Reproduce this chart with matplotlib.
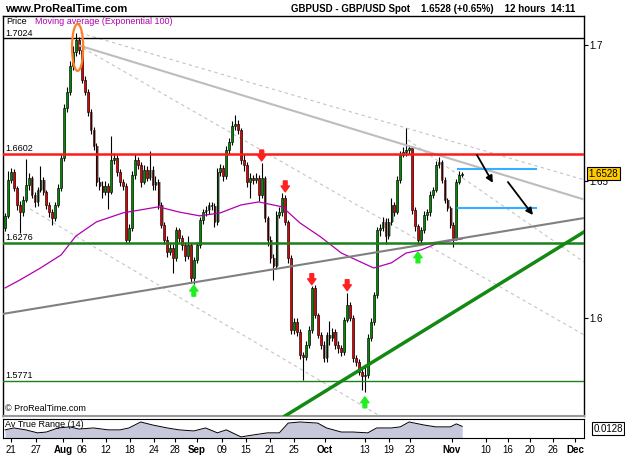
import matplotlib.pyplot as plt
import numpy as np
from matplotlib.patches import Ellipse
from matplotlib.transforms import blended_transform_factory

plt.rcParams['font.family'] = ['Liberation Sans', 'DejaVu Sans']

# GBPUSD 12h candles (bar index 0 = 20 Jul)
first_open = 1.6330
closes = [1.6374, 1.6506, 1.6535, 1.6476, 1.6414, 1.6388, 1.6432, 1.6487, 1.6513, 1.6451,
          1.6425, 1.6469, 1.6506, 1.6462, 1.6414, 1.6388, 1.6366, 1.6414, 1.6476, 1.6586,
          1.6769, 1.6828, 1.6923, 1.6975, 1.7018, 1.6982, 1.6872, 1.6828, 1.6755, 1.6689,
          1.6630, 1.6498, 1.6484, 1.6462, 1.6484, 1.6462, 1.6579, 1.6586, 1.6535, 1.6498,
          1.6484, 1.6286, 1.6330, 1.6524, 1.6579, 1.6561, 1.6498, 1.6542, 1.6513, 1.6542,
          1.6487, 1.6498, 1.6414, 1.6341, 1.6286, 1.6242, 1.6257, 1.6220, 1.6322, 1.6293,
          1.6267, 1.6227, 1.6267, 1.6147, 1.6213, 1.6267, 1.6359, 1.6388, 1.6396, 1.6414,
          1.6410, 1.6352, 1.6535, 1.6550, 1.6520, 1.6616, 1.6645, 1.6703, 1.6711, 1.6689,
          1.6579, 1.6561, 1.6498, 1.6513, 1.6506, 1.6513, 1.6451, 1.6513, 1.6366, 1.6286,
          1.6220, 1.6191, 1.6377, 1.6388, 1.6440, 1.6352, 1.6220, 1.5956, 1.5986, 1.5949,
          1.5865, 1.5857, 1.5901, 1.5956, 1.6110, 1.6011, 1.5938, 1.5901, 1.5854, 1.5938,
          1.5927, 1.5949, 1.5901, 1.5890, 1.5876, 1.5993, 1.6048, 1.6000, 1.5854, 1.5839,
          1.5802, 1.5788, 1.5791, 1.5927, 1.5986, 1.6084, 1.6322, 1.6330, 1.6352, 1.6300,
          1.6352, 1.6414, 1.6388, 1.6506, 1.6597, 1.6608, 1.6616, 1.6623, 1.6396, 1.6337,
          1.6286, 1.6322, 1.6377, 1.6388, 1.6451, 1.6469, 1.6561, 1.6572, 1.6506, 1.6432,
          1.6403, 1.6341, 1.6293, 1.6498, 1.6524, 1.6528]
highs = [1.6385, 1.6540, 1.6550, 1.6545, 1.6482, 1.6430, 1.6445, 1.6583, 1.6530, 1.6520,
         1.6460, 1.6480, 1.6557, 1.6515, 1.6470, 1.6425, 1.6400, 1.6425, 1.6490, 1.6600,
         1.6785, 1.6845, 1.6940, 1.6995, 1.7043, 1.7030, 1.6995, 1.6885, 1.6840, 1.6765,
         1.6700, 1.6640, 1.6515, 1.6500, 1.6500, 1.6495, 1.6667, 1.6605, 1.6598, 1.6545,
         1.6510, 1.6495, 1.6345, 1.6540, 1.6600, 1.6590, 1.6570, 1.6560, 1.6555, 1.6610,
         1.6555, 1.6520, 1.6510, 1.6425, 1.6350, 1.6300, 1.6275, 1.6270, 1.6335, 1.6330,
         1.6305, 1.6280, 1.6300, 1.6275, 1.6225, 1.6280, 1.6370, 1.6400, 1.6410, 1.6425,
         1.6425, 1.6420, 1.6550, 1.6565, 1.6560, 1.6630, 1.6660, 1.6720, 1.6744, 1.6725,
         1.6695, 1.6600, 1.6570, 1.6530, 1.6525, 1.6530, 1.6525, 1.6568, 1.6520, 1.6375,
         1.6300, 1.6235, 1.6390, 1.6405, 1.6458, 1.6450, 1.6360, 1.6230, 1.6000, 1.6000,
         1.5960, 1.5875, 1.5915, 1.5970, 1.6118, 1.6120, 1.6020, 1.5950, 1.5915, 1.5950,
         1.5990, 1.5965, 1.5960, 1.5915, 1.5900, 1.6005, 1.6092, 1.6060, 1.6010, 1.5865,
         1.5850, 1.5815, 1.5820, 1.5940, 1.6000, 1.6095, 1.6335, 1.6345, 1.6370, 1.6365,
         1.6365, 1.6440, 1.6425, 1.6520, 1.6610, 1.6625, 1.6696, 1.6635, 1.6630, 1.6405,
         1.6345, 1.6335, 1.6390, 1.6400, 1.6465, 1.6480, 1.6575, 1.6590, 1.6580, 1.6515,
         1.6440, 1.6410, 1.6350, 1.6510, 1.6540, 1.6535]
lows = [1.6318, 1.6365, 1.6495, 1.6465, 1.6396, 1.6312, 1.6372, 1.6425, 1.6470, 1.6440,
        1.6405, 1.6410, 1.6460, 1.6450, 1.6400, 1.6370, 1.6340, 1.6355, 1.6405, 1.6465,
        1.6575, 1.6755, 1.6815, 1.6910, 1.6960, 1.6965, 1.6860, 1.6815, 1.6740, 1.6675,
        1.6615, 1.6485, 1.6470, 1.6440, 1.6450, 1.6399, 1.6455, 1.6565, 1.6520, 1.6485,
        1.6470, 1.6276, 1.6276, 1.6320, 1.6510, 1.6545, 1.6480, 1.6490, 1.6500, 1.6505,
        1.6470, 1.6470, 1.6400, 1.6330, 1.6270, 1.6225, 1.6230, 1.6165, 1.6210, 1.6280,
        1.6250, 1.6210, 1.6215, 1.6128, 1.6125, 1.6200, 1.6255, 1.6345, 1.6375, 1.6380,
        1.6395, 1.6335, 1.6340, 1.6520, 1.6500, 1.6510, 1.6600, 1.6635, 1.6690, 1.6675,
        1.6565, 1.6540, 1.6480, 1.6440, 1.6490, 1.6495, 1.6430, 1.6440, 1.6350, 1.6265,
        1.6200, 1.6139, 1.6180, 1.6365, 1.6375, 1.6340, 1.6200, 1.5940, 1.5940, 1.5935,
        1.5850, 1.5773, 1.5845, 1.5890, 1.5945, 1.6000, 1.5925, 1.5885, 1.5840, 1.5840,
        1.5900, 1.5915, 1.5885, 1.5870, 1.5860, 1.5865, 1.5985, 1.5990, 1.5840, 1.5825,
        1.5790, 1.5736, 1.5729, 1.5780, 1.5915, 1.5975, 1.6075, 1.6300, 1.6320, 1.6270,
        1.6290, 1.6340, 1.6375, 1.6380, 1.6495, 1.6590, 1.6595, 1.6600, 1.6380, 1.6320,
        1.6267, 1.6275, 1.6310, 1.6360, 1.6375, 1.6440, 1.6460, 1.6550, 1.6495, 1.6420,
        1.6390, 1.6330, 1.6260, 1.6285, 1.6490, 1.6515]
opens = [first_open] + closes[:-1]

# exponential moving average (100), read at some bars
ema_bars = [0, 5, 12, 19, 24, 31, 40, 52, 59, 66, 73, 80, 86, 94, 100, 107, 114, 119, 125, 131, 136, 141, 147, 155]
ema_vals = [1.6110, 1.6139, 1.6183, 1.6231, 1.6300, 1.6352, 1.6385, 1.6407, 1.6388, 1.6374, 1.6385, 1.6414,
            1.6425, 1.6407, 1.6348, 1.6297, 1.6238, 1.6213, 1.6183, 1.6202, 1.6238, 1.6249, 1.6275, 1.6290]

# average true range (14)
atr_bars = [0, 3, 7, 11, 14, 18, 22, 25, 30, 35, 39, 42, 46, 50, 55, 59, 64, 68, 72, 75,
            80, 84, 89, 93, 96, 100, 106, 109, 114, 118, 123, 126, 131, 134, 137, 142, 146, 151, 153, 155]
atr_vals = [0.0115, 0.0122, 0.0115, 0.0104, 0.0107, 0.0122, 0.0126, 0.0118, 0.0122, 0.0115,
            0.0115, 0.0122, 0.0144, 0.0133, 0.0122, 0.0115, 0.0111, 0.0122, 0.0104, 0.0115,
            0.0089, 0.0096, 0.0104, 0.0104, 0.0140, 0.0144, 0.0140, 0.0122, 0.0107, 0.0107,
            0.0104, 0.0122, 0.0122, 0.0126, 0.0144, 0.0133, 0.0126, 0.0126, 0.0137, 0.0128]

# horizontal levels
levels = [1.7024, 1.6602, 1.6276, 1.5771]
level_labels = ['1.7024', '1.6602', '1.6276', '1.5771']
level_colors = ['black', '#ff1a1a', '#1a801a', '#1a801a']
level_widths = [1.0, 1.8, 1.8, 1.0]

# trendlines: (bar0, price0, bar1, price1)
solid_gray = (25.4, 1.6997, 196.3, 1.6434)
rising_gray = (-0.7, 1.6015, 196.3, 1.6366)
green_trend = (94.9, 1.5641, 196.3, 1.6315)
dashed_lines = [(25.4, 1.7044, 196.3, 1.6506),
                (26.4, 1.6989, 196.3, 1.5938),
                (8.5, 1.6399, 127.1, 1.5641),
                (136.6, 1.6652, 196.3, 1.6205)]

sell_bars = [87, 95, 104, 116]
sell_tips = [1.6575, 1.6462, 1.6122, 1.6100]
buy_bars = [64, 122, 140]
buy_tips = [1.6120, 1.5711, 1.6242]

target_levels = [1.6546, 1.6403]
target_span = (153.5, 180.0)
proj_arrows = [(160.0, 1.6597, 165.4, 1.6495), (170.5, 1.6498, 179.0, 1.6377)]

x_ticks = [2.0, 10.5, 19.7, 26.1, 34.2, 42.4, 50.5, 57.6, 65.1, 73.6, 81.7, 89.8, 98.0,
           108.5, 122.0, 130.2, 137.3, 151.5, 163.1, 170.5, 178.0, 185.8, 193.2]
x_labels = ['21', '27', 'Aug', '06', '12', '18', '24', '28', 'Sep', '09', '15', '21', '25',
            'Oct', '13', '19', '23', 'Nov', '10', '16', '20', '26', 'Dec']

last_price = 1.6528
atr_last = '0.0128'

W, H = 625, 469
fig = plt.figure(figsize=(W / 100, H / 100), dpi=100)
fig.patch.set_facecolor('white')


def box(x0, y0, x1, y1):
    return [x0 / W, 1 - y1 / H, (x1 - x0) / W, (y1 - y0) / H]


ax = fig.add_axes(box(3, 16, 584, 416))
ax2 = fig.add_axes(box(3, 419, 584, 438))
xlim = (-0.7, 196.3)

# candles
idx = np.arange(len(closes))
o = np.array(opens)
c = np.array(closes)
lo = np.minimum(o, c)
hgt = np.maximum(np.abs(c - o), 0.0003)
cols = np.where(c >= o, '#008a00', '#e00000')
ax.bar(idx + 0.5, hgt, bottom=lo, width=0.45, color='#a8a8a8', zorder=2)
ax.vlines(idx, lows, highs, color='black', lw=0.8, zorder=3)
ax.bar(idx, hgt, bottom=lo, width=0.6, color=cols, edgecolor='black', linewidth=0.4, zorder=4)

ax.plot(ema_bars, ema_vals, color='#b000b0', lw=0.9, zorder=5)

for lv, col, lw_ in zip(levels, level_colors, level_widths):
    ax.axhline(lv, color=col, lw=lw_, zorder=6)

for (x0, y0, x1, y1) in dashed_lines:
    ax.plot([x0, x1], [y0, y1], color='#c4c4c4', lw=0.8, ls=(0, (3, 3)), zorder=1)
ax.plot(solid_gray[::2], solid_gray[1::2], color='#bdbdbd', lw=1.5, zorder=5)
ax.plot(rising_gray[::2], rising_gray[1::2], color='#808080', lw=1.5, zorder=5)
ax.plot(green_trend[::2], green_trend[1::2], color='#128a12', lw=2.5, zorder=6)

for lv in target_levels:
    ax.plot(target_span, [lv, lv], color='#33b0ff', lw=1.5, zorder=6)
for (x0, y0, x1, y1) in proj_arrows:
    ax.annotate('', xy=(x1, y1), xytext=(x0, y0),
                arrowprops=dict(arrowstyle='-|>', color='black', lw=1.3, mutation_scale=10,
                                shrinkA=0, shrinkB=0), zorder=7)

arrow_style = 'simple,head_width=1.0,head_length=0.7,tail_width=0.45'
for b, t in zip(sell_bars, sell_tips):
    ax.annotate('', xy=(b, t), xytext=(b, t + 0.0040),
                arrowprops=dict(arrowstyle=arrow_style, color='#ff2020', mutation_scale=6,
                                shrinkA=0, shrinkB=0), zorder=8)
for b, t in zip(buy_bars, buy_tips):
    ax.annotate('', xy=(b, t), xytext=(b, t - 0.0040),
                arrowprops=dict(arrowstyle=arrow_style, color='#20ee20', mutation_scale=6,
                                shrinkA=0, shrinkB=0), zorder=8)

ax.add_patch(Ellipse((24.6, 1.6991), 3.8, 0.0172, fill=False, edgecolor='#ff7f27', lw=1.6, zorder=8))

ax.set_xlim(xlim)
ax.set_ylim(1.5641, 1.7106)
ax.set_xticks([])
ax.set_yticks([1.6, 1.65, 1.7])
ax.set_yticklabels(['1.6', '1.65', '1.7'])
ax.yaxis.tick_right()
ax.tick_params(axis='y', direction='out', length=3, width=0.8, labelsize=7, pad=1)
for s in ax.spines.values():
    s.set_linewidth(1.0)
ax.spines['bottom'].set_color('#999999')
ax.spines['bottom'].set_linewidth(1.5)

trans = blended_transform_factory(ax.transAxes, ax.transData)
for lv, lab in zip(levels, level_labels):
    ax.text(0.004, lv + 0.0003, lab, transform=trans, fontsize=6.5, va='bottom', ha='left', zorder=9)
ax.text(1.008, last_price, f'{last_price:.4f}', transform=trans, fontsize=7, va='center', ha='left',
        bbox=dict(boxstyle='square,pad=0.15', facecolor='#ffcc00', edgecolor='black', lw=0.8), zorder=10)

ax.text(0.006, 0.997, 'Price', transform=ax.transAxes, fontsize=6.5, va='top')
ax.text(0.055, 0.997, 'Moving average (Exponential 100)', transform=ax.transAxes,
        fontsize=6.5, va='top', color='#b000b0')
ax.text(0.003, 0.008, '\u00a9 ProRealTime.com', transform=ax.transAxes, fontsize=6.5, va='bottom')

# ATR panel
ax2.fill_between(atr_bars, atr_vals, 0.0085, color='#c8c8dc', lw=0)
ax2.plot(atr_bars, atr_vals, color='black', lw=0.7)
ax2.set_xlim(xlim)
ax2.set_ylim(0.0085, 0.0155)
ax2.set_yticks([])
ax2.set_xticks(x_ticks)
ax2.set_xticklabels(x_labels)
ax2.tick_params(axis='x', direction='out', length=3, width=0.8, labelsize=7, pad=2)
for lab in ax2.get_xticklabels():
    if lab.get_text() in ('Aug', 'Sep', 'Oct', 'Nov', 'Dec'):
        lab.set_fontweight('bold')
ax2.text(0.004, 0.95, 'Av True Range (14)', transform=ax2.transAxes, fontsize=6.5, va='top')
ax2.text(1.016, 0.5, atr_last, transform=ax2.transAxes, fontsize=7, va='center', ha='left',
         bbox=dict(boxstyle='square,pad=0.15', facecolor='white', edgecolor='black', lw=0.8))

fig.text(5 / W, 1 - 9 / H, 'www.ProRealTime.com', fontsize=8, fontweight='bold', va='center')
fig.text(291 / W, 1 - 9 / H, 'GBPUSD - GBP/USD Spot    1.6528 (+0.65%)    12 hours  14:11',
         fontsize=7, fontweight='bold', va='center')

fig.savefig('out.png', dpi=100)
plt.close(fig)
